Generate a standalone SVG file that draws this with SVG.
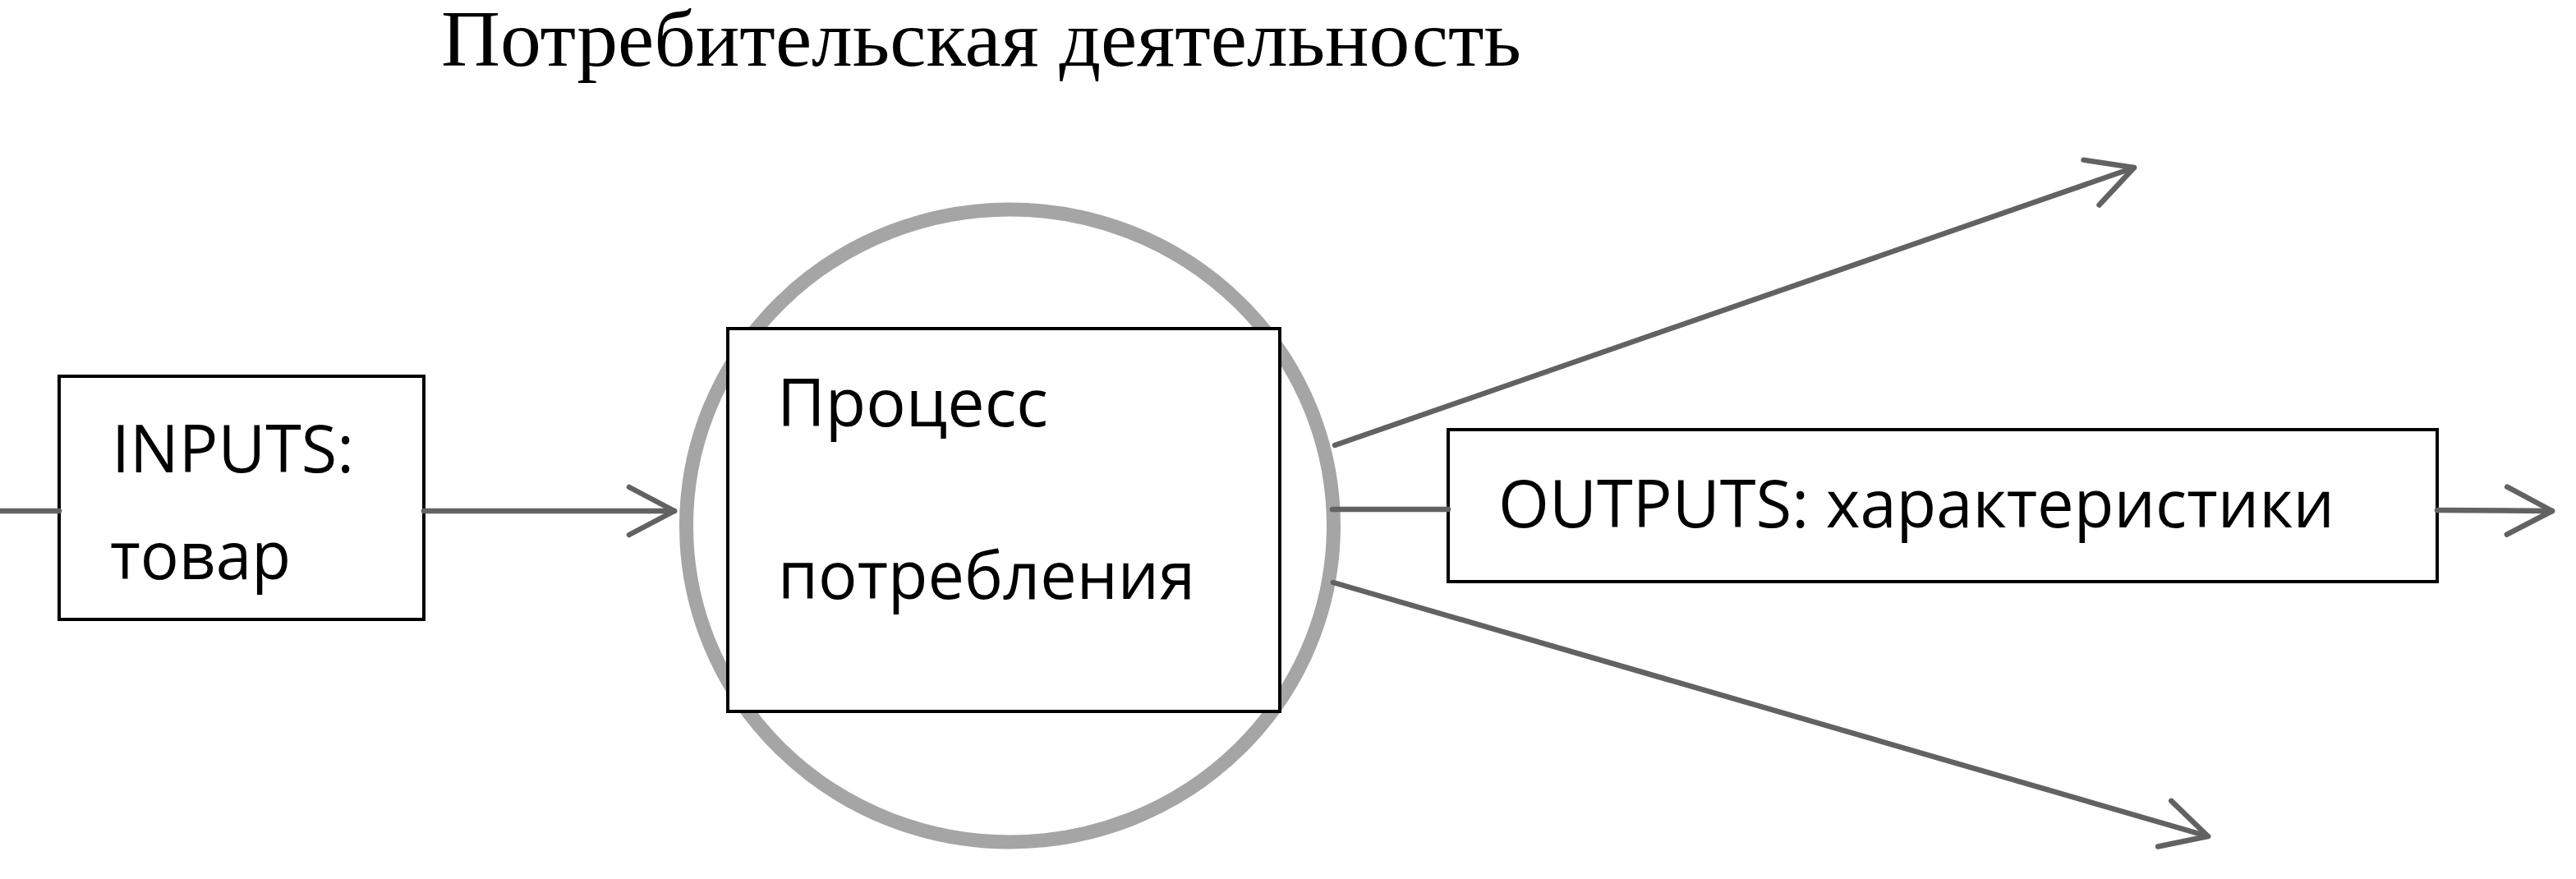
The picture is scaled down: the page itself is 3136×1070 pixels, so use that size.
<svg xmlns="http://www.w3.org/2000/svg" width="3136" height="1070" viewBox="0 0 3136 1070">
  <style>
    .box { fill: #ffffff; stroke: #000000; stroke-width: 4; }
    .lbl { font-family: "Open Sans", "Noto Sans", "DejaVu Sans", sans-serif; font-size: 80px; fill: #000000; }
    .title { font-family: "Liberation Serif", "Times New Roman", serif; font-size: 98px; fill: #000000; }
    .conn { stroke: #626262; stroke-width: 6.5; stroke-linecap: round; fill: none; }
    .ring { fill: none; stroke: #a5a5a5; stroke-width: 17; }
  </style>
  <defs>
    <marker id="chev" markerUnits="userSpaceOnUse" orient="auto" refX="0" refY="0" markerWidth="80" markerHeight="80" overflow="visible">
      <path d="M-55,-29 L0,0 L-55,29" fill="none" stroke="#626262" stroke-width="6.5" stroke-linecap="round" stroke-linejoin="round"/>
    </marker>
  </defs>
  <rect x="0" y="0" width="3136" height="1070" fill="#ffffff"/>

  <g id="title">
    <text class="title" x="537" y="80" textLength="1315" lengthAdjust="spacingAndGlyphs">Потребительская деятельность</text>
  </g>

  <g id="consumption-circle">
    <ellipse class="ring" cx="1229.5" cy="640" rx="394" ry="385"/>
  </g>

  <g id="inputs">
    <rect class="box" x="72" y="458" width="444" height="296"/>
    <text class="lbl" x="136" y="575" textLength="295" lengthAdjust="spacingAndGlyphs">INPUTS:</text>
    <text class="lbl" x="134" y="705" textLength="220" lengthAdjust="spacingAndGlyphs">товар</text>
  </g>

  <g id="process">
    <rect class="box" x="886" y="400" width="672" height="466"/>
    <text class="lbl" x="946" y="519" textLength="330" lengthAdjust="spacingAndGlyphs">Процесс</text>
    <text class="lbl" x="947" y="729" textLength="508" lengthAdjust="spacingAndGlyphs">потребления</text>
  </g>

  <g id="outputs">
    <rect class="box" x="1763" y="523" width="1204" height="185"/>
    <text class="lbl" x="1824" y="642" textLength="1018" lengthAdjust="spacingAndGlyphs">OUTPUTS: характеристики</text>
  </g>

  <g id="connectors">
    <line class="conn" x1="0" y1="622" x2="72" y2="622"/>
    <line class="conn" x1="516" y1="622" x2="821" y2="622" marker-end="url(#chev)"/>
    <line class="conn" x1="1625" y1="542" x2="2598" y2="204" marker-end="url(#chev)"/>
    <line class="conn" x1="1622" y1="620" x2="1763" y2="620"/>
    <line class="conn" x1="2967" y1="621" x2="3107" y2="622" marker-end="url(#chev)"/>
    <line class="conn" x1="1623" y1="709" x2="2688" y2="1018" marker-end="url(#chev)"/>
  </g>
</svg>
